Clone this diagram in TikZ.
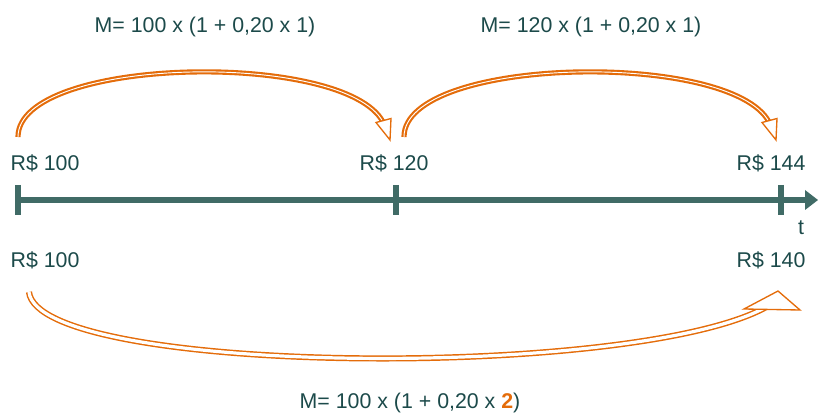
\documentclass[tikz,border=0pt]{standalone}
\usepackage{fontspec}
\setmainfont{Liberation Sans}
\usetikzlibrary{arrows.meta}
\definecolor{orng}{HTML}{E46C0A}
\definecolor{txt}{HTML}{1C4A4A}
\definecolor{axis}{HTML}{406B66}
\tikzset{
  lbl/.style={text=txt, font=\fontsize{16pt}{19pt}\selectfont, inner sep=0pt},
  bandtop/.style={draw=orng, line width=1.6pt, double=white, double distance=0.7pt},
  bandbot/.style={draw=orng, line width=1.1pt, double=white, double distance=2.4pt},
  head/.style={draw=orng, line width=1pt, fill=white, line join=miter},
  tick/.style={draw=axis, line width=4.5pt},
}
\begin{document}
\begin{tikzpicture}[x=0.75pt, y=-0.75pt]
\useasboundingbox (0,0) rectangle (818,417);
% labels
\node[lbl] (f1) at (205,27) {M= 100 x (1 + 0,20 x 1)};
\node[lbl] (f2) at (591,27) {M= 120 x (1 + 0,20 x 1)};
\node[lbl] (f3) at (410,403) {M= 100 x (1 + 0,20 x {\bfseries\color{orng}2})};
\node[lbl] (a100) at (45,163) {R\$ 100};
\node[lbl] (a120) at (394,163) {R\$ 120};
\node[lbl] (a144) at (771,163) {R\$ 144};
\node[lbl] (b100) at (45,260) {R\$ 100};
\node[lbl] (b140) at (771,260) {R\$ 140};
\node[lbl] (t) at (801,228) {t};
% axis
\coordinate (x0) at (15,200);
\coordinate (x1) at (806,200);
\draw[draw=axis, line width=4pt] (x0) -- (x1);
\fill[axis] (818,200) -- (805,190) -- (805,210) -- cycle;
\draw[tick] (18,185) -- (18,215);
\draw[tick] (396,185) -- (396,215);
\draw[tick] (781,185) -- (781,215);
% top arrow 1
\coordinate (s1) at (18,137);
\coordinate (e1) at (383,122);
\draw[bandtop] (s1) .. controls (18,56) and (345,50) .. (e1);
\draw[head] (376,122.5) -- (390,140) -- (391,118.5) -- cycle;
% top arrow 2
\coordinate (s2) at (404,137);
\coordinate (e2) at (769,122);
\draw[bandtop] (s2) .. controls (404,56) and (731,50) .. (e2);
\draw[head] (762,122.5) -- (776,140) -- (777,118.5) -- cycle;
% bottom arrow
\coordinate (s3) at (29,292);
\coordinate (e3) at (768,306);
\draw[bandbot] (s3) .. controls (38,376) and (640,380) .. (e3);
\draw[head] (744,309) -- (778,291) -- (800,310) -- cycle;
\end{tikzpicture}
\end{document}
